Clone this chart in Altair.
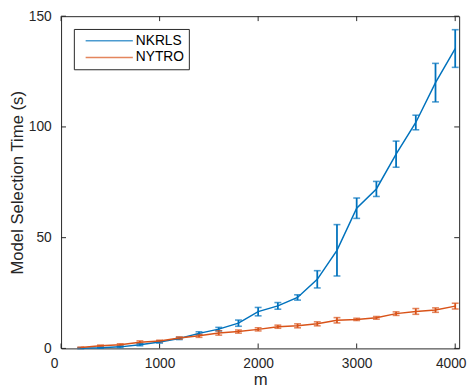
import altair as alt
import pandas as pd

# ---- data ----
m_values = [200, 400, 600, 800, 1000, 1200, 1400, 1600, 1800, 2000,
            2200, 2400, 2600, 2800, 3000, 3200, 3400, 3600, 3800, 4000]
nkrls_mean = [0.1, 0.3, 0.7, 1.7, 2.9, 4.5, 6.8, 8.7, 11.4, 16.6,
              19.2, 23.0, 31.2, 44.3, 63.3, 72.0, 87.7, 102.0, 120.0, 135.4]
nkrls_err = [0.2, 0.2, 0.3, 0.5, 0.5, 0.5, 0.7, 0.8, 1.4, 1.9,
             1.5, 1.2, 3.9, 11.6, 4.6, 3.4, 5.9, 3.3, 8.7, 8.5]
nytro_mean = [0.4, 1.2, 1.7, 2.8, 3.3, 4.7, 5.7, 7.0, 7.6, 8.6,
              9.8, 10.2, 11.1, 12.7, 13.1, 13.8, 15.7, 16.7, 17.3, 19.1]
nytro_err = [0.2, 0.3, 0.4, 0.6, 0.4, 0.5, 0.7, 1.0, 0.7, 0.7,
             0.7, 0.9, 0.9, 1.2, 0.5, 0.6, 0.8, 1.3, 1.0, 1.3]
methods = ["NKRLS", "NYTRO"]
colors = ["#0072BD", "#D95319"]
x_ticks = [0, 1000, 2000, 3000, 4000]
y_ticks = [0, 50, 100, 150]

rows = []
for name, means, errs in [("NKRLS", nkrls_mean, nkrls_err), ("NYTRO", nytro_mean, nytro_err)]:
    for m, mu, e in zip(m_values, means, errs):
        rows.append({"m": m, "method": name, "mean": mu, "lo": mu - e, "hi": mu + e})
df = pd.DataFrame(rows)

W, H = 405, 338
INK = "#262626"
FONT = "Liberation Sans"

xscale = alt.Scale(domain=[0, 4040], nice=False, zero=False)
yscale = alt.Scale(domain=[0, 150], nice=False)
cscale = alt.Scale(domain=methods, range=colors)

xaxis = alt.Axis(values=x_ticks, format="d", title="m", labelPadding=8, titlePadding=2,
                 labelFlush=5, labelFlushOffset=11)
yaxis = alt.Axis(values=y_ticks, format="d", title="Model Selection Time (s)",
                 labelPadding=10, titlePadding=2)

legend = alt.Legend(
    orient="none", legendX=13, legendY=13, title=None,
    symbolType="M-8,0H8", symbolSize=36, symbolStrokeWidth=1.5,
    symbolOffset=24, labelOffset=20,
    labelFont=FONT, labelFontSize=14, labelColor="black",
    strokeColor=INK, fillColor="white", padding=5, rowPadding=3,
)


def X(field):
    return alt.X(field, scale=xscale, axis=xaxis)


def Y(field):
    return alt.Y(field, scale=yscale, axis=yaxis)


C = alt.Color("method:N", scale=cscale, legend=legend)

base = alt.Chart(df)

lines = base.mark_line(strokeWidth=1.5).encode(x=X("m:Q"), y=Y("mean:Q"), color=C)

bars = base.mark_rule(strokeWidth=1.8).encode(
    x=X("m:Q"), y=Y("lo:Q"), y2="hi:Q", color=C)
cap_lo = base.mark_tick(orient="horizontal", size=7, thickness=1.6).encode(
    x=X("m:Q"), y=Y("lo:Q"), color=C)
cap_hi = base.mark_tick(orient="horizontal", size=7, thickness=1.6).encode(
    x=X("m:Q"), y=Y("hi:Q"), color=C)

xt = pd.DataFrame({"t": x_ticks})
yt = pd.DataFrame({"t": y_ticks})
TL = 5
xt_bottom = alt.Chart(xt).mark_rule(color=INK, strokeWidth=1).encode(
    x=X("t:Q"), y=alt.value(H), y2=alt.value(H - TL))
xt_top = alt.Chart(xt).mark_rule(color=INK, strokeWidth=1).encode(
    x=X("t:Q"), y=alt.value(0), y2=alt.value(TL))
yt_left = alt.Chart(yt).mark_rule(color=INK, strokeWidth=1).encode(
    y=Y("t:Q"), x=alt.value(0), x2=alt.value(TL))
yt_right = alt.Chart(yt).mark_rule(color=INK, strokeWidth=1).encode(
    y=Y("t:Q"), x=alt.value(W - TL), x2=alt.value(W))

chart = alt.layer(
    xt_bottom, xt_top, yt_left, yt_right, bars, cap_lo, cap_hi, lines
).properties(
    width=W, height=H,
    autosize=alt.AutoSizeParams(type="none"),
    padding={"left": 54, "top": 5, "right": 9, "bottom": 40},
).configure_view(
    stroke=INK, strokeWidth=1
).configure_axis(
    domain=False, ticks=False, grid=False,
    labelFont=FONT, labelFontSize=14, labelColor=INK,
    titleFont=FONT, titleFontSize=17, titleColor=INK, titleFontWeight="normal",
)

chart.save("out.html", embed_options={"renderer": "svg", "actions": False})
